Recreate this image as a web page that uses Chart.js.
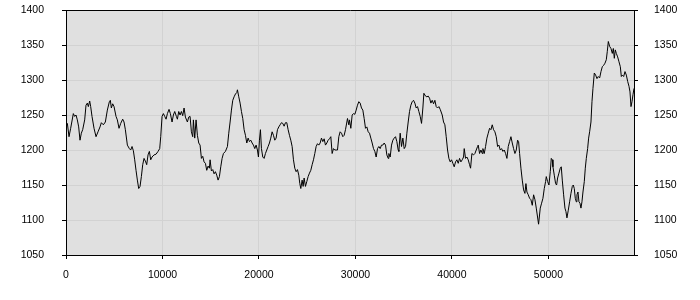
<!DOCTYPE html>
<html><head><meta charset="utf-8">
<script src="https://cdn.jsdelivr.net/npm/chart.js@4/dist/chart.umd.min.js"></script>
<style>html,body{margin:0;padding:0;background:#fff;}#wrap{width:700px;height:300px;}</style>
</head><body><div id="wrap"><canvas id="c" width="700" height="300"></canvas></div>
<script>
const xValues = [
0,140,311,484,760,899,1037,1175,1314,1452,1590,1728,1936,2074,2212,2316,2454,2558,2696,2904,
3111,3319,3526,3664,3871,4079,4286,4494,4597,4701,4839,4978,5185,5323,5496,5669,5876,6014,6153,6360,
6567,6705,6844,6982,7120,7258,7397,7535,7673,7811,7950,8088,8261,8364,8503,8641,8779,8917,9125,9332,
9539,9713,9817,9955,10094,10232,10370,10509,10680,10819,10992,11130,11268,11441,11545,11683,11822,11960,12098,12237,
12375,12582,12720,12859,12997,13135,13204,13342,13481,13619,13757,13896,14034,14172,14311,14449,14587,14726,14864,14933,
15071,15210,15348,15486,15625,15763,15901,16039,16178,16316,16524,16731,16869,17008,17146,17284,17423,17561,17699,17768,
17907,18045,18183,18322,18460,18598,18737,18875,19013,19152,19290,19426,19565,19703,19841,19945,20049,20152,20256,20394,
20533,20671,20809,20948,21086,21224,21362,21501,21639,21777,21916,22054,22192,22330,22469,22607,22745,22883,23022,23160,
23298,23437,23575,23713,23851,23990,24128,24232,24335,24474,24577,24681,24819,24957,25096,25234,25372,25511,25649,25787,
25925,26064,26202,26340,26479,26617,26755,26893,27032,27170,27308,27446,27585,27723,27861,28000,28138,28276,28414,28553,
28691,28829,28968,29174,29313,29382,29520,29658,29797,29935,30073,30211,30350,30488,30626,30765,30903,31041,31179,31318,
31456,31594,31732,31871,32009,32147,32286,32424,32562,32700,32839,32977,33115,33254,33392,33461,33599,33738,33876,34014,
34152,34291,34429,34498,34636,34775,34913,35051,35189,35328,35466,35604,35743,35881,36019,36157,36296,36434,36572,36711,
36849,36987,37091,37264,37402,37540,37679,37817,37955,38094,38232,38370,38508,38647,38785,38991,39130,39268,39406,39545,
39683,39821,39959,40098,40236,40374,40513,40651,40789,40927,41066,41204,41273,41411,41550,41688,41826,41930,42068,42241,
42379,42518,42656,42725,42863,43002,43140,43209,43347,43486,43624,43762,43900,44039,44177,44315,44453,44592,44730,44868,
45007,45145,45283,45421,45560,45698,45836,45975,46113,46251,46389,46528,46666,46804,46908,47012,47150,47288,47427,47565,
47669,47772,47910,48049,48187,48325,48464,48602,48740,48978,49154,49293,49431,49569,49707,49776,49915,50053,50191,50295,
50399,50468,50606,50744,50848,50952,51090,51228,51332,51436,51574,51712,51816,51920,52058,52196,52335,52473,52577,52680,
52784,52888,52957,53061,53164,53268,53372,53476,53579,53718,53821,53925,54063,54167,54271,54409,54513,54616,54755,54893,
55031,55169,55308,55446,55584,55723,55861,55999,56103,56207,56345,56483,56621,56725,56829,56932,57036,57175,57313,57451,
57555,57659,57797,57935,58074,58212,58350,58454,58558,58661,58765,58869
];
const yValues = [
1240,1238,1219,1231,1252,1248,1250,1243,1233,1214,1224,1229,1243,1264,1267,1262,1270,1262,1248,1231,
1219,1226,1233,1239,1236,1240,1257,1269,1271,1260,1266,1262,1248,1243,1231,1238,1244,1240,1229,1207,
1202,1200,1205,1199,1186,1171,1157,1145,1148,1162,1179,1188,1183,1179,1193,1198,1186,1190,1193,1194,
1198,1202,1219,1248,1252,1248,1244,1252,1258,1252,1240,1250,1255,1248,1244,1255,1250,1255,1249,1260,
1247,1240,1247,1248,1226,1219,1243,1217,1243,1221,1210,1207,1188,1191,1183,1181,1171,1177,1174,1186,
1170,1172,1166,1169,1164,1157,1162,1176,1188,1195,1198,1205,1224,1240,1257,1271,1276,1280,1282,1286,
1276,1267,1255,1245,1229,1221,1210,1217,1212,1214,1210,1207,1202,1207,1200,1190,1214,1229,1202,1190,
1188,1195,1200,1205,1210,1217,1226,1221,1214,1217,1229,1233,1236,1239,1238,1234,1239,1239,1229,1221,
1214,1205,1186,1174,1169,1172,1164,1152,1145,1157,1148,1160,1148,1155,1162,1167,1171,1179,1186,1195,
1205,1209,1207,1210,1217,1212,1216,1207,1210,1214,1216,1219,1195,1202,1200,1200,1200,1219,1226,1224,
1219,1221,1229,1245,1236,1243,1231,1250,1252,1251,1257,1264,1269,1267,1260,1257,1245,1231,1233,1226,
1224,1217,1210,1202,1198,1190,1202,1205,1202,1207,1207,1210,1207,1193,1188,1195,1190,1207,1214,1217,
1219,1212,1200,1198,1224,1205,1217,1202,1205,1224,1240,1255,1264,1269,1271,1267,1260,1262,1255,1248,
1238,1260,1281,1277,1276,1277,1274,1267,1271,1266,1271,1262,1260,1262,1258,1250,1240,1236,1219,1200,
1188,1183,1186,1181,1176,1183,1186,1181,1188,1183,1186,1190,1202,1188,1190,1186,1179,1174,1195,1193,
1195,1200,1205,1207,1195,1200,1195,1202,1195,1205,1217,1224,1231,1229,1236,1229,1226,1219,1205,1207,
1200,1202,1198,1200,1195,1188,1205,1212,1219,1210,1202,1195,1200,1214,1212,1195,1174,1157,1143,1138,
1152,1140,1136,1131,1129,1121,1136,1129,1117,1094,1117,1124,1131,1145,1155,1162,1155,1150,1169,1188,
1186,1176,1164,1152,1150,1160,1167,1174,1176,1157,1136,1117,1112,1103,1114,1126,1138,1148,1150,1145,
1131,1126,1136,1140,1126,1124,1117,1126,1140,1155,1174,1188,1202,1217,1226,1240,1269,1288,1310,1307,
1302,1305,1303,1312,1319,1321,1324,1329,1341,1355,1348,1345,1338,1345,1331,1343,1338,1333,1326,1319,
1305,1307,1305,1312,1307,1298,1291,1283,1262,1269,1279,1288
];
const xTicks = [0, 10000, 20000, 30000, 40000, 50000];
const yTicks = [1050, 1100, 1150, 1200, 1250, 1300, 1350, 1400];

const font = {family: '"Liberation Sans", Arial, sans-serif', size: 10.5};
const points = xValues.map((x, i) => ({x: x, y: yValues[i]}));

const frame = {
  id: 'frame',
  beforeDraw(chart) {
    const a = chart.chartArea, c = chart.ctx;
    c.save();
    c.fillStyle = '#e0e0e0';
    c.fillRect(a.left, a.top, a.right - a.left, a.bottom - a.top);
    c.restore();
  },
  afterDraw(chart) {
    const a = chart.chartArea, c = chart.ctx;
    c.save();
    c.strokeStyle = '#000';
    c.lineWidth = 1;
    c.beginPath();
    c.moveTo(Math.round(a.left), Math.round(a.top) + 0.5);
    c.lineTo(Math.round(a.right) + 1, Math.round(a.top) + 0.5);
    c.stroke();
    c.restore();
  }
};

const yAxis = (pos, pad) => ({
  type: 'linear', position: pos, min: yTicks[0], max: yTicks[yTicks.length - 1],
  afterBuildTicks: s => { s.ticks = yTicks.map(v => ({value: v})); },
  afterFit: s => { s.width = 66; s.paddingTop = 0; s.paddingBottom = 0; },
  grid: {display: true, drawOnChartArea: pos === 'left', color: '#d2d2d2', tickColor: '#000', tickLength: 4, lineWidth: 1},
  border: {display: true, color: '#000', width: 1},
  ticks: {font: font, color: '#000', padding: pad, callback: v => String(v)}
});

new Chart(document.getElementById('c'), {
  type: 'line',
  data: {datasets: [{data: points, borderColor: '#000', borderWidth: 1, pointRadius: 0, tension: 0, fill: false}]},
  options: {
    responsive: false, animation: false, devicePixelRatio: 1,
    layout: {padding: {top: 10, left: 0, right: 0, bottom: 0}},
    plugins: {legend: {display: false}, tooltip: {enabled: false}},
    scales: {
      x: {
        type: 'linear', position: 'bottom', min: 0, max: xValues[xValues.length - 1],
        afterBuildTicks: s => { s.ticks = xTicks.map(v => ({value: v})); },
        afterFit: s => { s.height = 45; s.paddingLeft = 0; s.paddingRight = 0; },
        grid: {color: '#d2d2d2', tickColor: '#000', tickLength: 4, lineWidth: 1},
        border: {display: true, color: '#000', width: 1},
        ticks: {font: font, color: '#000', padding: 10, maxRotation: 0, autoSkip: false, callback: v => String(v)}
      },
      y: yAxis('left', 18),
      y2: yAxis('right', 16)
    }
  },
  plugins: [frame]
});
</script></body></html>
